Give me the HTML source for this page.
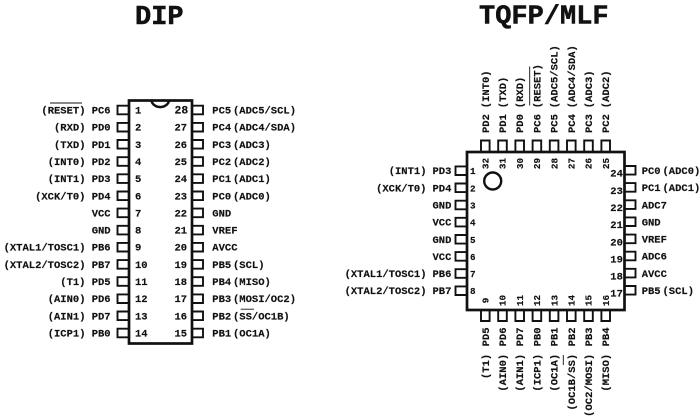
<!DOCTYPE html>
<html><head><meta charset="utf-8"><style>
html,body{margin:0;padding:0;background:#fff}
svg{display:block;filter:blur(.25px)}
text{font-family:"Liberation Mono",monospace;font-weight:bold;fill:#111;stroke:#111;stroke-width:.15px;font-size:10.5px}
.e{text-anchor:end}
.t{font-size:27px;stroke-width:.5px}
.n{font-size:10.5px}
.s{font-size:9.3px}
.m{text-anchor:middle}
</style></head><body>
<svg width="700" height="416" viewBox="0 0 700 416" xmlns="http://www.w3.org/2000/svg">
<text class="t" x="135" y="24">DIP</text>
<text class="t" x="479" y="23.5">TQFP/MLF</text>

<!-- DIP body -->
<rect x="129" y="100.5" width="63" height="243" fill="#fff" stroke="#111" stroke-width="2.7"/>
<path d="M151.5 101A9 8 0 0 0 169 101" fill="none" stroke="#111" stroke-width="2.4"/>
<path fill="none" stroke="#111" stroke-width="1.9" d="M128 105.7H117.5V114.3H128M128 122.9H117.5V131.5H128M128 140H117.5V148.6H128M128 157.2H117.5V165.8H128M128 174.3H117.5V182.9H128M128 191.5H117.5V200.1H128M128 208.6H117.5V217.2H128M128 225.8H117.5V234.4H128M128 242.9H117.5V251.5H128M128 260.1H117.5V268.7H128M128 277.2H117.5V285.8H128M128 294.4H117.5V303H128M128 311.5H117.5V320.1H128M128 328.7H117.5V337.3H128"/>
<path fill="none" stroke="#111" stroke-width="1.9" d="M193 105.7H203V114.3H193M193 122.9H203V131.5H193M193 140H203V148.6H193M193 157.2H203V165.8H193M193 174.3H203V182.9H193M193 191.5H203V200.1H193M193 208.6H203V217.2H193M193 225.8H203V234.4H193M193 242.9H203V251.5H193M193 260.1H203V268.7H193M193 277.2H203V285.8H193M193 294.4H203V303H193M193 311.5H203V320.1H193M193 328.7H203V337.3H193"/>

<!-- DIP left alt -->
<text class="e" x="85.5" y="113.5">(RESET)</text>
<text class="e" x="85.5" y="130.7">(RXD)</text>
<text class="e" x="85.5" y="147.8">(TXD)</text>
<text class="e" x="85.5" y="165">(INT0)</text>
<text class="e" x="85.5" y="182.1">(INT1)</text>
<text class="e" x="85.5" y="199.3">(XCK/T0)</text>
<text class="e" x="85.5" y="250.7">(XTAL1/TOSC1)</text>
<text class="e" x="85.5" y="267.9">(XTAL2/TOSC2)</text>
<text class="e" x="85.5" y="285">(T1)</text>
<text class="e" x="85.5" y="302.2">(AIN0)</text>
<text class="e" x="85.5" y="319.3">(AIN1)</text>
<text class="e" x="85.5" y="336.5">(ICP1)</text>
<path d="M50 103H82M240.7 309.2H254" stroke="#111" stroke-width=".9"/>

<!-- DIP left names -->
<text x="91.7" y="113.5">PC6</text>
<text x="91.7" y="130.7">PD0</text>
<text x="91.7" y="147.8">PD1</text>
<text x="91.7" y="165">PD2</text>
<text x="91.7" y="182.1">PD3</text>
<text x="91.7" y="199.3">PD4</text>
<text x="91.7" y="216.4">VCC</text>
<text x="91.7" y="233.6">GND</text>
<text x="91.7" y="250.7">PB6</text>
<text x="91.7" y="267.9">PB7</text>
<text x="91.7" y="285">PD5</text>
<text x="91.7" y="302.2">PD6</text>
<text x="91.7" y="319.3">PD7</text>
<text x="91.7" y="336.5">PB0</text>

<!-- DIP numbers -->
<text class="n" x="135" y="113.5">1</text>
<text class="n" x="135" y="130.7">2</text>
<text class="n" x="135" y="147.8">3</text>
<text class="n" x="135" y="165">4</text>
<text class="n" x="135" y="182.1">5</text>
<text class="n" x="135" y="199.3">6</text>
<text class="n" x="135" y="216.4">7</text>
<text class="n" x="135" y="233.6">8</text>
<text class="n" x="135" y="250.7">9</text>
<text class="n" x="135" y="267.9">10</text>
<text class="n" x="135" y="285">11</text>
<text class="n" x="135" y="302.2">12</text>
<text class="n" x="135" y="319.3">13</text>
<text class="n" x="135" y="336.5">14</text>
<text class="n" x="174.5" y="113.5" style="font-size:11.4px">28</text>
<text class="n" x="174.5" y="130.7">27</text>
<text class="n" x="174.5" y="147.8">26</text>
<text class="n" x="174.5" y="165">25</text>
<text class="n" x="174.5" y="182.1">24</text>
<text class="n" x="174.5" y="199.3">23</text>
<text class="n" x="174.5" y="216.4">22</text>
<text class="n" x="174.5" y="233.6">21</text>
<text class="n" x="174.5" y="250.7">20</text>
<text class="n" x="174.5" y="267.9">19</text>
<text class="n" x="174.5" y="285">18</text>
<text class="n" x="174.5" y="302.2">17</text>
<text class="n" x="174.5" y="319.3">16</text>
<text class="n" x="174.5" y="336.5">15</text>

<!-- DIP right -->
<text x="212.3" y="113.5">PC5</text><text x="233" y="113.5">(ADC5/SCL)</text>
<text x="212.3" y="130.7">PC4</text><text x="233" y="130.7">(ADC4/SDA)</text>
<text x="212.3" y="147.8">PC3</text><text x="233" y="147.8">(ADC3)</text>
<text x="212.3" y="165">PC2</text><text x="233" y="165">(ADC2)</text>
<text x="212.3" y="182.1">PC1</text><text x="233" y="182.1">(ADC1)</text>
<text x="212.3" y="199.3">PC0</text><text x="233" y="199.3">(ADC0)</text>
<text x="212.3" y="216.4">GND</text>
<text x="212.3" y="233.6">VREF</text>
<text x="212.3" y="250.7">AVCC</text>
<text x="212.3" y="267.9">PB5</text><text x="233" y="267.9">(SCL)</text>
<text x="212.3" y="285">PB4</text><text x="233" y="285">(MISO)</text>
<text x="212.3" y="302.2">PB3</text><text x="233" y="302.2">(MOSI/OC2)</text>
<text x="212.3" y="319.3">PB2</text><text x="233" y="319.3">(SS/OC1B)</text>
<text x="212.3" y="336.5">PB1</text><text x="233" y="336.5">(OC1A)</text>

<!-- TQFP body -->
<rect x="467" y="152" width="157.5" height="158" fill="#fff" stroke="#111" stroke-width="2.7"/>
<circle cx="492.7" cy="181" r="8.5" fill="none" stroke="#111" stroke-width="2.4"/>
<path fill="none" stroke="#111" stroke-width="1.9" d="M466 166.4H455.5V175H466M466 183.5H455.5V192.1H466M466 200.7H455.5V209.3H466M466 217.8H455.5V226.4H466M466 235H455.5V243.6H466M466 252.1H455.5V260.7H466M466 269.2H455.5V277.8H466M466 286.4H455.5V295H466"/>
<path fill="none" stroke="#111" stroke-width="1.9" d="M625 166H635.5V174.6H625M625 183.1H635.5V191.7H625M625 200.3H635.5V208.9H625M625 217.4H635.5V226H625M625 234.6H635.5V243.2H625M625 251.7H635.5V260.3H625M625 268.8H635.5V277.4H625M625 286H635.5V294.6H625"/>
<path fill="none" stroke="#111" stroke-width="1.9" d="M481 151V140.5H489.6V151M498.2 151V140.5H506.8V151M515.4 151V140.5H524V151M532.6 151V140.5H541.2V151M549.8 151V140.5H558.4V151M567 151V140.5H575.6V151M584.2 151V140.5H592.8V151M601.4 151V140.5H610V151"/>
<path fill="none" stroke="#111" stroke-width="1.9" d="M481 311V321H489.6V311M498.2 311V321H506.8V311M515.4 311V321H524V311M532.6 311V321H541.2V311M549.8 311V321H558.4V311M567 311V321H575.6V311M584.2 311V321H592.8V311M601.4 311V321H610V311"/>

<!-- TQFP left -->
<text class="e" x="426.5" y="174.2">(INT1)</text><text x="432.5" y="174.2">PD3</text>
<text class="e" x="426.5" y="191.3">(XCK/T0)</text><text x="432.5" y="191.3">PD4</text>
<text x="432.5" y="208.5">GND</text>
<text x="432.5" y="225.6">VCC</text>
<text x="432.5" y="242.8">GND</text>
<text x="432.5" y="259.9">VCC</text>
<text class="e" x="426.5" y="277">(XTAL1/TOSC1)</text><text x="432.5" y="277">PB6</text>
<text class="e" x="426.5" y="294.2">(XTAL2/TOSC2)</text><text x="432.5" y="294.2">PB7</text>
<text class="s" x="470" y="174.2">1</text>
<text class="s" x="470" y="191.3">2</text>
<text class="s" x="470" y="208.5">3</text>
<text class="s" x="470" y="225.6">4</text>
<text class="s" x="470" y="242.8">5</text>
<text class="s" x="470" y="259.9">6</text>
<text class="s" x="470" y="277">7</text>
<text class="s" x="470" y="294.2">8</text>

<!-- TQFP right -->
<text class="n" x="610.3" y="176.7">24</text>
<text class="n" x="610.3" y="193.8">23</text>
<text class="n" x="610.3" y="211">22</text>
<text class="n" x="610.3" y="228.1">21</text>
<text class="n" x="610.3" y="245.3">20</text>
<text class="n" x="610.3" y="262.4">19</text>
<text class="n" x="610.3" y="279.5">18</text>
<text class="n" x="610.3" y="296.7">17</text>
<text x="641.7" y="174">PC0</text><text x="662.5" y="174">(ADC0)</text>
<text x="641.7" y="191.1">PC1</text><text x="662.5" y="191.1">(ADC1)</text>
<text x="641.7" y="208.3">ADC7</text>
<text x="641.7" y="225.4">GND</text>
<text x="641.7" y="242.6">VREF</text>
<text x="641.7" y="259.7">ADC6</text>
<text x="641.7" y="276.8">AVCC</text>
<text x="641.7" y="294">PB5</text><text x="662.5" y="294">(SCL)</text>

<!-- TQFP top labels -->
<text transform="translate(488.8,133) rotate(-90)">PD2</text><text transform="translate(488.8,108.2) rotate(-90)">(INT0)</text>
<text transform="translate(506,133) rotate(-90)">PD1</text><text transform="translate(506,108.2) rotate(-90)">(TXD)</text>
<text transform="translate(523.2,133) rotate(-90)">PD0</text><text transform="translate(523.2,108.2) rotate(-90)">(RXD)</text>
<text transform="translate(540.4,133) rotate(-90)">PC6</text><text transform="translate(540.4,108.2) rotate(-90)">(RESET)</text>
<text transform="translate(557.6,133) rotate(-90)">PC5</text><text transform="translate(557.6,108.2) rotate(-90)">(ADC5/SCL)</text>
<text transform="translate(574.8,133) rotate(-90)">PC4</text><text transform="translate(574.8,108.2) rotate(-90)">(ADC4/SDA)</text>
<text transform="translate(592,133) rotate(-90)">PC3</text><text transform="translate(592,108.2) rotate(-90)">(ADC3)</text>
<text transform="translate(609.2,133) rotate(-90)">PC2</text><text transform="translate(609.2,108.2) rotate(-90)">(ADC2)</text>
<path d="M529.7 66.5V105.5M563.3 355V365" stroke="#111" stroke-width=".9"/>

<!-- TQFP top numbers -->
<text class="s m" transform="translate(488.5,163.5) rotate(-90)">32</text>
<text class="s m" transform="translate(505.7,163.5) rotate(-90)">31</text>
<text class="s m" transform="translate(522.9,163.5) rotate(-90)">30</text>
<text class="s m" transform="translate(540.1,163.5) rotate(-90)">29</text>
<text class="s m" transform="translate(557.3,163.5) rotate(-90)">28</text>
<text class="s m" transform="translate(574.5,163.5) rotate(-90)">27</text>
<text class="s m" transform="translate(591.7,163.5) rotate(-90)">26</text>
<text class="s m" transform="translate(608.9,163.5) rotate(-90)">25</text>

<!-- TQFP bottom numbers -->
<text class="s m" transform="translate(488.5,300.5) rotate(-90)">9</text>
<text class="s m" transform="translate(505.7,300.5) rotate(-90)">10</text>
<text class="s m" transform="translate(522.9,300.5) rotate(-90)">11</text>
<text class="s m" transform="translate(540.1,300.5) rotate(-90)">12</text>
<text class="s m" transform="translate(557.3,300.5) rotate(-90)">13</text>
<text class="s m" transform="translate(574.5,300.5) rotate(-90)">14</text>
<text class="s m" transform="translate(591.7,300.5) rotate(-90)">15</text>
<text class="s m" transform="translate(608.9,300.5) rotate(-90)">16</text>

<!-- TQFP bottom labels -->
<text class="e" transform="translate(488.8,327.5) rotate(-90)">PD5</text><text class="e" transform="translate(488.8,353.8) rotate(-90)">(T1)</text>
<text class="e" transform="translate(506,327.5) rotate(-90)">PD6</text><text class="e" transform="translate(506,353.8) rotate(-90)">(AIN0)</text>
<text class="e" transform="translate(523.2,327.5) rotate(-90)">PD7</text><text class="e" transform="translate(523.2,353.8) rotate(-90)">(AIN1)</text>
<text class="e" transform="translate(540.4,327.5) rotate(-90)">PB0</text><text class="e" transform="translate(540.4,353.8) rotate(-90)">(ICP1)</text>
<text class="e" transform="translate(557.6,327.5) rotate(-90)">PB1</text><text class="e" transform="translate(557.6,353.8) rotate(-90)">(OC1A)</text>
<text class="e" transform="translate(574.8,327.5) rotate(-90)">PB2</text><text class="e" transform="translate(574.8,353.8) rotate(-90)">(OC1B/SS)</text>
<text class="e" transform="translate(592,327.5) rotate(-90)">PB3</text><text class="e" transform="translate(592,353.8) rotate(-90)">(OC2/MOSI)</text>
<text class="e" transform="translate(609.2,327.5) rotate(-90)">PB4</text><text class="e" transform="translate(609.2,353.8) rotate(-90)">(MISO)</text>
</svg>
</body></html>
